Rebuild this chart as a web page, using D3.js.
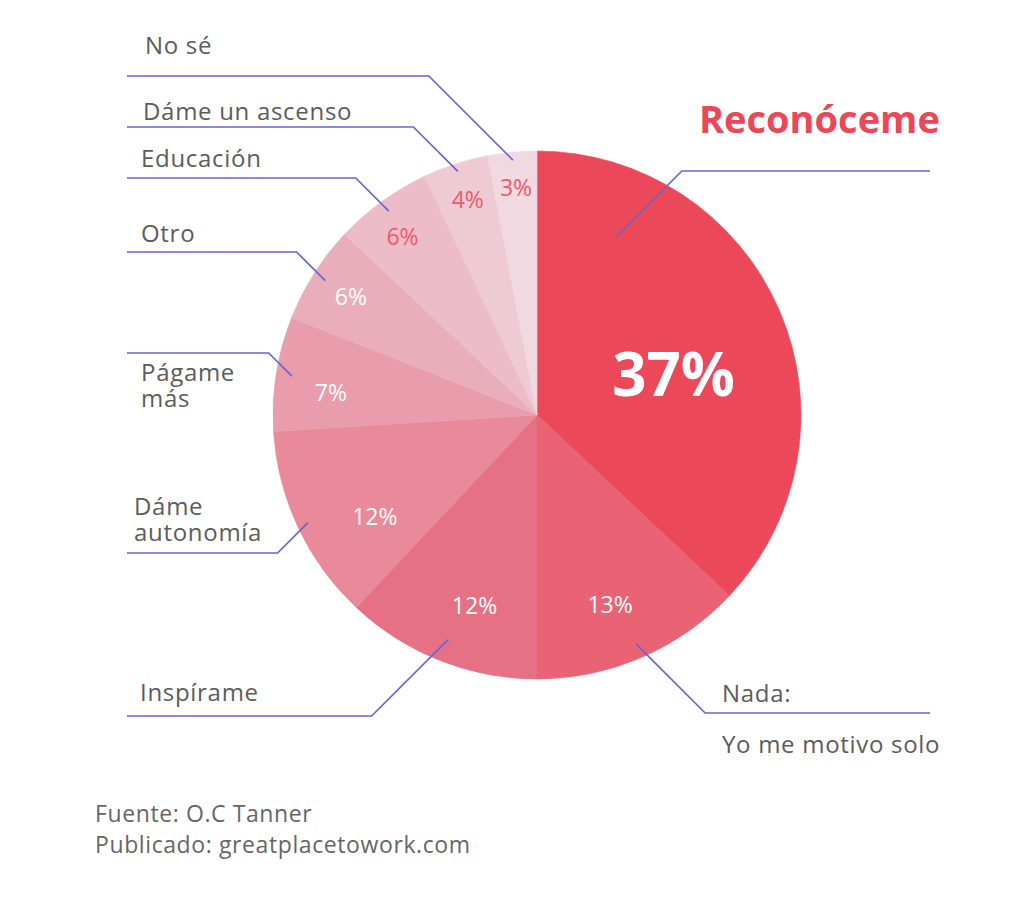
<!DOCTYPE html>
<html>
<head>
<meta charset="utf-8">
<script src="https://cdn.jsdelivr.net/npm/d3@7"></script>
<style>
  html, body { margin: 0; padding: 0; background: #fff; }
  svg { display: block; }
  text { font-family: 'Open Sans', sans-serif; }
</style>
</head>
<body>
<script>
// data
const categories = ['Reconóceme', 'Nada:\nYo me motivo solo', 'Inspírame', 'Dáme\nautonomía',
  'Págame\nmás', 'Otro', 'Educación', 'Dáme un ascenso', 'No sé']
const values = [37, 13, 12, 12, 7, 6, 6, 4, 3]
const colors = ['#eb4859', '#e96374', '#e67184', '#e88a99', '#e99cab', '#eaaebb', '#ecbdc9', '#eecad4', '#f0d9e1']
const sourceLines = ['Fuente: O.C Tanner', 'Publicado: greatplacetowork.com']

// layout for the annotations (not data)
const pctPos = [[0.55, 0.54], [0.55, 0.77], [0.42, 0.76], [0.34, 0.725], [0.385, 0.785],
  [0.5, 0.835], [0.45, 0.845], [0.51, 0.855], [0.51, 0.864]]
const leaderAt = [[0.18, 0.74], [0.5, 0.945], [0.5, 0.915], [0.5, 0.96], [0.5, 0.94],
  [0.5, 0.95], [0.5, 0.955], [0.5, 0.97], [0.5, 0.97]]
const lineY = [171, 713, 716, 553, 353, 252, 178, 127, 76]
const labelXY = [[699, 133], [722, 702], [140, 701], [134, 515], [141, 381], [141, 242], [141, 167], [143, 120], [145, 54]]
const lineGap = [0, 51, 0, 25.5, 25.5, 0, 0, 0, 0]

const width = 1024
const height = 898
const cx = 537
const cy = 415
const radius = 264

const svg = d3.select('body').append('svg')
  .attr('width', width)
  .attr('height', height)

const pie = d3.pie().sort(null).value(d => d)
const arcs = pie(values)
const arc = d3.arc().innerRadius(0).outerRadius(radius)

const g = svg.append('g').attr('transform', `translate(${cx},${cy})`)

g.selectAll('path.slice')
  .data(arcs)
  .enter().append('path')
  .attr('class', 'slice')
  .attr('d', arc)
  .attr('fill', (d, i) => colors[i])
  .attr('stroke', (d, i) => colors[i])
  .attr('stroke-width', 0.6)

const polar = (a, r) => [r * Math.sin(a), -r * Math.cos(a)]

// percent labels
g.selectAll('text.pct')
  .data(arcs)
  .enter().append('text')
  .attr('class', 'pct')
  .attr('text-anchor', 'middle')
  .each(function (d, i) {
    const a = d.startAngle + (d.endAngle - d.startAngle) * pctPos[i][0]
    const p = polar(a, radius * pctPos[i][1])
    const big = i === 0
    d3.select(this)
      .attr('x', p[0])
      .attr('y', p[1] + (big ? 22 : 8))
      .style('font-size', big ? '60px' : '23px')
      .style('font-weight', big ? 700 : 400)
      .attr('fill', i >= 6 ? '#ef5a69' : '#fff')
      .text(d.data + '%')
  })

// leader lines
const leaderPts = arcs.map((d, i) => {
  const a = d.startAngle + (d.endAngle - d.startAngle) * leaderAt[i][0]
  const p = polar(a, radius * leaderAt[i][1])
  const x0 = cx + p[0]
  const y0 = cy + p[1]
  const right = x0 > cx
  const dy = Math.abs(y0 - lineY[i])
  const ex = right ? x0 + dy : x0 - dy
  const endX = right ? 930 : 127
  return [[x0, y0], [ex, lineY[i]], [endX, lineY[i]]]
})

svg.selectAll('path.leader')
  .data(leaderPts)
  .enter().append('path')
  .attr('class', 'leader')
  .attr('d', d3.line())
  .attr('fill', 'none')
  .attr('stroke', '#6764d4')
  .attr('stroke-width', 1.7)

// category labels
svg.selectAll('text.cat')
  .data(categories)
  .enter().append('text')
  .attr('class', 'cat')
  .attr('x', (d, i) => labelXY[i][0])
  .attr('y', (d, i) => labelXY[i][1])
  .attr('fill', (d, i) => i === 0 ? '#ec4758' : '#5c5c5c')
  .style('font-size', (d, i) => i === 0 ? '38px' : '24px')
  .style('font-weight', (d, i) => i === 0 ? 700 : 400)
  .style('letter-spacing', (d, i) => i === 0 ? '0px' : '0.7px')
  .each(function (d, i) {
    d.split('\n').forEach((line, k) => {
      d3.select(this).append('tspan')
        .attr('x', labelXY[i][0])
        .attr('y', labelXY[i][1] + k * lineGap[i])
        .text(line)
    })
  })

// source
svg.selectAll('text.src')
  .data(sourceLines)
  .enter().append('text')
  .attr('class', 'src')
  .attr('x', 95)
  .attr('y', (d, i) => 822 + i * 31)
  .attr('fill', '#666')
  .style('font-size', '23px')
  .style('letter-spacing', '0.6px')
  .text(d => d)
</script>
</body>
</html>
